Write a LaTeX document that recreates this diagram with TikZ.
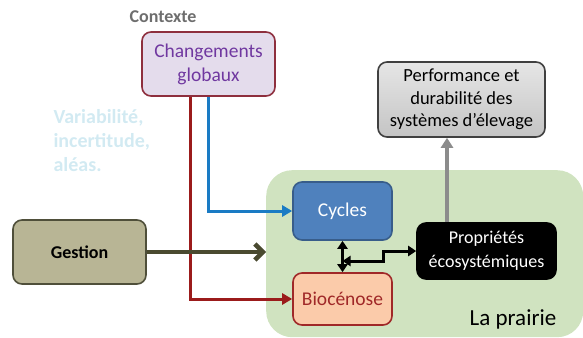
\documentclass[tikz,border=0pt]{standalone}
\usepackage{fontspec}
\setmainfont{Carlito}
\usepackage{xcolor}
\usetikzlibrary{positioning}
\usetikzlibrary{arrows.meta}

\definecolor{prairiegreen}{HTML}{D0E3C0}
\definecolor{chgfill}{HTML}{E4DCEC}
\definecolor{chgborder}{HTML}{8E2F3E}
\definecolor{chgtext}{HTML}{7038A0}
\definecolor{gestfill}{HTML}{B8B595}
\definecolor{gestborder}{HTML}{4F4F3A}
\definecolor{cyclefill}{HTML}{4F81BD}
\definecolor{cycleborder}{HTML}{385D8A}
\definecolor{biofill}{HTML}{FBCBAA}
\definecolor{bioborder}{HTML}{A02828}
\definecolor{perftop}{HTML}{E6E6E6}
\definecolor{perfbottom}{HTML}{C4C4C4}
\definecolor{redlink}{HTML}{9B1B1B}
\definecolor{bluelink}{HTML}{1A7BC4}
\definecolor{graylink}{HTML}{8C8C8C}
\definecolor{olivelink}{HTML}{4A4A30}
\definecolor{palevar}{HTML}{D2EAF2}
\definecolor{ctxgray}{HTML}{6E6E6E}

\begin{document}
\begin{tikzpicture}[x=1pt, y=-1pt,
    box/.style={draw, rounded corners=9pt, line width=1.6pt, align=center, inner sep=2pt,
        font=\fontsize{19.5}{24}\selectfont},
    link/.style={line width=3pt}]
    \useasboundingbox (0,0) rectangle (583,337);

    % La prairie
    \node[fill=prairiegreen, rounded corners=26pt, minimum width=317pt, minimum height=167pt, anchor=north west]
        (prairie) at (266,170) {};
    \node[font=\fontsize{23}{27}\selectfont] (prairielabel) at (513,319) {La prairie};

    % Contexte
    \node[font=\bfseries\fontsize{18}{21}\selectfont, text=ctxgray] (ctx) at (163,17) {Contexte};
    \node[box, fill=chgfill, draw=chgborder, text=chgtext, minimum width=133pt, minimum height=64pt]
        (chg) at (208.5,64) {Changements\\globaux};
    \node[anchor=north west, align=left, text=palevar, font=\bfseries\fontsize{20}{24}\selectfont]
        (var) at (50,106) {Variabilité,\\incertitude,\\aléas.};

    % Gestion
    \node[box, fill=gestfill, draw=gestborder, minimum width=133pt, minimum height=64pt,
        font=\bfseries\fontsize{18}{22}\selectfont] (gestion) at (79.5,252) {Gestion};

    % Compartiments de la prairie
    \node[box, fill=cyclefill, draw=cycleborder, text=white, minimum width=99pt, minimum height=58pt]
        (cycles) at (342.5,211) {Cycles};
    \node[box, fill=biofill, draw=bioborder, text=bioborder, minimum width=99pt, minimum height=52pt]
        (bioc) at (342.5,299) {Biocénose};
    \node[box, fill=black, draw=black, text=white, minimum width=139pt, minimum height=56pt,
        font=\fontsize{18}{24}\selectfont] (props) at (486.5,251) {Propriétés\\écosystémiques};

    % Performance
    \node[box, top color=perftop, bottom color=perfbottom, draw=black!75, minimum width=167pt, minimum height=75pt,
        font=\fontsize{18.5}{22.5}\selectfont] (perf) at (461.5,99.5) {Performance et\\durabilité des\\systèmes d’élevage};

    % Liens
    \draw[link, redlink, -{Triangle[length=10pt,width=11pt]}] ([xshift=-18.5pt]chg.south) |- (bioc.west);
    \draw[link, bluelink, -{Triangle[length=10pt,width=11pt]}] (chg.south) |- (cycles.west);
    \draw[line width=4.5pt, olivelink, -{Straight Barb[length=8pt,width=16pt]}] (gestion.east) -- (gestion.east -| prairie.west);
    \draw[line width=4.5pt, graylink, -{Triangle[length=10pt,width=12pt]}] ([xshift=-39.5pt]props.north) -- ([xshift=-39.5pt]props.north |- perf.south);

    \coordinate (junction) at (342.5,261);
    \coordinate (bend) at (383,261);
    \draw[link, black, {Triangle[length=8pt,width=10pt]}-{Triangle[length=8pt,width=10pt]}] (cycles.south) -- (bioc.north);
    \draw[link, black, {Triangle[length=8pt,width=10pt]}-{Triangle[length=8pt,width=10pt]}] (junction) -- (bend) |- (props.west);
\end{tikzpicture}
\end{document}
